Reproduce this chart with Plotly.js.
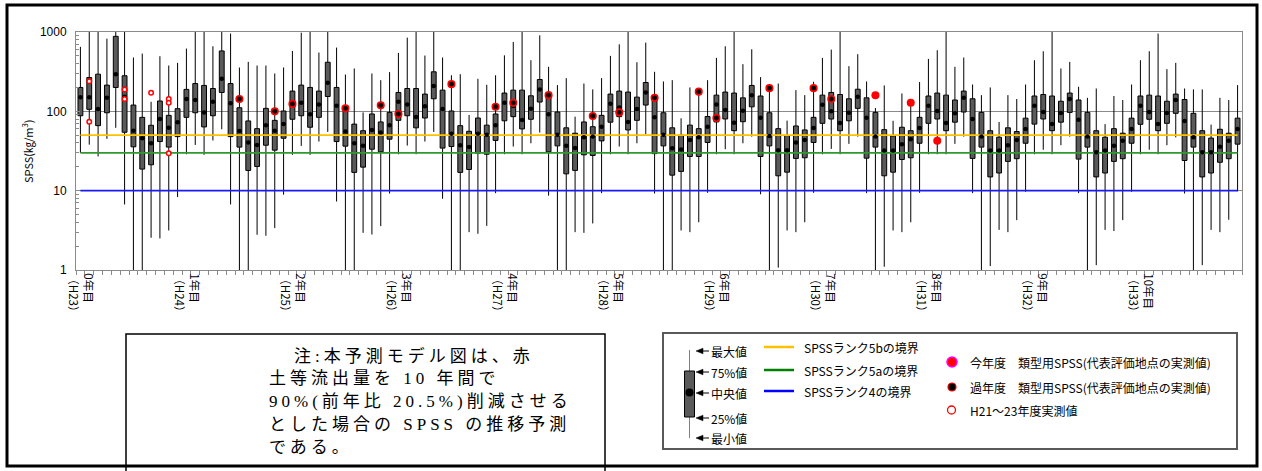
<!DOCTYPE html>
<html><head><meta charset="utf-8">
<script src="https://cdn.plot.ly/plotly-3.0.1.min.js"></script>
<style>
html,body{margin:0;padding:0;background:#fff;}
#chart{width:1262px;height:471px;}
</style>
</head><body><div id="chart"></div>
<script>
// ---- data ----
const yearLabels = ['0年目','1年目','2年目','3年目','4年目','5年目','6年目','7年目','8年目','9年目','10年目'];
const eraLabels  = ['（H23）','（H24）','（H25）','（H26）','（H27）','（H28）','（H29）','（H30）','（H31）','（H32）','（H33）'];
const monthsPerYear = 12;

const minVals = [30,38,27,45,62,6.7,0.5,0.5,2.55,2.5,3.15,8.3,
 28.8,37.7,28.3,42.9,59.4,6.7,0.5,0.5,2.78,2.7,3.37,8.9,
 28.3,36.7,28.3,41.6,55,7.3,0.5,0.5,2.94,2.8,3.57,9.2,
 28.8,37,28.8,41.6,55,7.9,0.5,0.5,3.0,2.86,3.6,9.3,
 28.8,36,28.8,39.6,54,8.65,0.5,0.5,3.0,2.94,3.86,9.3,
 28.8,36,28.8,39.6,51.4,9.2,0.5,0.5,3.15,3.0,4.0,9.4,
 28.8,33.3,28.8,39.6,48,9.0,0.5,1.07,3.15,3.0,4.0,9.4,
 28.8,33.6,28.8,38.9,48,9.3,0.5,1.1,3.15,3.0,4.0,9.4,
 28.8,28.8,28.8,38.9,48,9.3,0.5,1.12,3.2,3.0,4.25,9.7,
 28.8,32.8,28.8,37.4,48,9.3,0.5,1.15,3.2,3.1,4.25,9.7,
 28.8,32.8,28.8,37.4,47,9.2,0.5,1.15,3.2,3.0,4.3,9.8];
const q1Vals = [88,106,66,96,200,54.5,35.7,18.7,21.2,41.6,35.4,48,
 84,96,63.6,88,173,48,35.4,18,20.2,37.4,32.4,45.8,
 79.4,88,63,84,154,41.6,36.4,17,19.8,33.3,30.9,44.6,
 77,88,62,82.4,144,34.4,36,17,18.5,29.7,28.8,43,
 76,85.7,60,79.4,131,30.9,36.7,16.3,18,28.3,27.8,42.4,
 73,85.7,58.3,77,120,29.3,36.7,15.7,17.5,27,27,40.5,
 73.5,80.1,57,74,114,27,36.7,15.4,17.1,25.5,26,40.5,
 70.6,80,57,76,109,25.7,35.4,15.4,17.1,24.7,26,39.6,
 70.6,80,57,73,98,25.5,35.4,14.9,16.7,23.4,25.3,39.6,
 69,80,57,73,97,25,35.4,14.9,16.7,23.4,25.3,39.6,
 68.6,79.4,57,70.6,94.4,24,35.4,14.9,16.7,22.8,25.3,38.6];
const medVals = [150,150,107,148,294,153,57,45.8,39.6,80,62,73,
 143,139,97,132,257,126,56.6,40.5,37.7,67,57,69,
 124,128,91.7,122,229,118,55.6,39.6,36.7,58.3,54,67,
 132,122,85,115.6,208,107,52,37.4,35.4,52,50.5,67,
 128,116.6,77.8,108,189,91.7,50.5,36.7,34.4,47.2,48,64,
 125,112,73.5,107,173,84,50.5,34.2,33,43.6,47.2,64,
 122,104,72,102,160,83,49,32.4,32.4,40.5,43.6,61.8,
 121,100,71.5,96,153,83,48,32,32,38.5,44.6,61.8,
 118,101,71.5,94.4,148,80,48,32,32,37.4,43.6,60,
 118,98,69,95,143,78.6,48,30.5,32,36.7,42.5,60,
 118,98,69,95,139,75.7,47.2,30.5,30.5,35.7,42.5,60];
const q3Vals = [200,267,294,214,882,281,120,84,66.7,135,89,108,
 189,224,212,194,577,224,111,75.7,60.5,109,77,101,
 180,214,200,180,416,200,100,69,57,92.6,73.5,97,
 173,194,194,165,315,185,101,66,56,82.4,67,92.6,
 170,185,185,157,252,160,98,62,53,73.5,64,89,
 165,180,175,151,231,153,96,62,50,67,60.5,86,
 160,175,170,148,212,156,96,60.5,49.5,65.4,58.3,84,
 160,173,163,144,190,148,97,58.8,49,63,57,84,
 156,170,160,139,180,144,97,57,47.2,62,55.6,82,
 156,163,156,134,170,139,97,57,47.2,60.5,53,82,
 156,160,156,134,165,141,94.4,57,46,59.4,53,82];
const maxVals = [650,1500,1500,825,1500,1500,477,535,132,495,378,408,
 618,1500,1500,661,1500,955,357,420,378,378,300,357,
 577,980,1500,551,1500,636,291,347,97,300,247,312,
 545,849,1500,505,1500,477,285,294,90,257,216,285,
 508,749,1500,441,908,364,214,262,85.7,224,189,262,
 500,700,1500,416,735,315,238,247,81.7,200,177,247,
 472,661,1500,393,606,270,196,224,76.4,185,160,236,
 472,600,1500,371,525,238,110,212,76,168,120,234,
 458,589,1500,364,477,218,160,200,73.5,160,143,218,
 441,572,1500,347,420,204,148,194,69,156,139,218,
 441,572,955,340,408,194,189,189,68,148,139,214];

// 過年度 類型用SPSS
const pastIdx  = [18,22,24,30,34,36,42,47,49,53,58,61,65,70,72,78,83,85];
const pastVals = [143,100,124,109,119,92.6,220,114,128,160,87.4,97,148,177,82.4,196,196,143];
// 今年度 類型用SPSS
const currIdx  = [90,94,97];
const currVals = [160,128,42.5];
// H21～23年度実測値
const histIdx  = [1,1,5,5,8,10,10,10];
const histVals = [240,74,189,143,171,143,128,29.7];

// SPSS rank boundaries
const boundNames  = ['SPSSランク5bの境界','SPSSランク5aの境界','SPSSランク4の境界'];
const boundVals   = [50,30,10];
const boundColors = ['#FFC000','#2E9A2E','#1A1AF5'];
const boundLegendColors = ['#FFC000','#008000','#0000FF'];

const boxLegendLabels = ['最大値','75%値','中央値','25%値','最小値'];
const markerLegendLabels = ['今年度　類型用SPSS(代表評価地点の実測値)','過年度　類型用SPSS(代表評価地点の実測値)','H21～23年度実測値'];
const noteLines = ['注:本予測モデル図は、赤','土等流出量を 10 年間で','90%(前年比 20.5%)削減させる','とした場合の SPSS の推移予測','である。'];

// ---- geometry helpers (page pixels -> paper coords) ----
const W=1262,H=471,ML=76,MR=20,MT=32,MB=201;
const PW=W-ML-MR, PH=H-MT-MB;
const px = v => (v-ML)/PW;
const py = v => (H-MB-v)/PH;

const xs = minVals.map((_,i)=>i);
const FONT = 'Liberation Sans, Arial, Noto Sans CJK JP, sans-serif';
const JFONT = 'Noto Sans CJK JP, Liberation Sans, sans-serif';

const traces = [];
boundVals.forEach((v,k)=>{
  traces.push({type:'scatter',mode:'lines',x:[xs[0],xs[xs.length-1]],y:[v,v],
    line:{color:boundColors[k],width:1.8},hoverinfo:'skip',showlegend:false});
});
traces.push({type:'box',x:xs,q1:q1Vals,median:medVals,q3:q3Vals,lowerfence:minVals,upperfence:maxVals,
  fillcolor:'#5a5a5a',line:{color:'#000',width:1},whiskerwidth:0,width:0.55,boxpoints:false,
  hoverinfo:'skip',showlegend:false});
traces.push({type:'scatter',mode:'markers',x:xs,y:medVals,marker:{color:'#000',size:4.5},hoverinfo:'skip',showlegend:false});
traces.push({type:'scatter',mode:'markers',x:histIdx,y:histVals,marker:{color:'#fff',size:4.5,line:{color:'#FF0000',width:1.5}},hoverinfo:'skip',showlegend:false});
traces.push({type:'scatter',mode:'markers',x:pastIdx,y:pastVals,marker:{color:'#000',size:6.5,line:{color:'#FF0000',width:1.6}},hoverinfo:'skip',showlegend:false});
traces.push({type:'scatter',mode:'markers',x:currIdx,y:currVals,marker:{color:'#FF0000',size:8,line:{width:0}},hoverinfo:'skip',showlegend:false});

const shapes = [];
const annotations = [];

// note box text
const noteX = [292,267,267,267,267];
const noteY = [356,378,401,424,447];
noteLines.forEach((t,k)=>{
  annotations.push({xref:'paper',yref:'paper',x:px(noteX[k]),y:py(noteY[k]),xanchor:'left',yanchor:'middle',align:'left',
    text:t,showarrow:false,font:{family:'Liberation Serif, Noto Sans CJK JP, serif',size:17,color:'#000'}});
});

// outer frame & note box
shapes.push({type:'rect',xref:'paper',yref:'paper',x0:px(7),x1:px(1257),y0:py(5),y1:py(466),line:{color:'#000',width:3},layer:'above'});
shapes.push({type:'rect',xref:'paper',yref:'paper',x0:px(126),x1:px(605),y0:py(334),y1:py(490),line:{color:'#000',width:1.5},layer:'above'});

// legend box
shapes.push({type:'rect',xref:'paper',yref:'paper',x0:px(663),x1:px(1237),y0:py(333),y1:py(449),line:{color:'#595959',width:2},fillcolor:'#fff',layer:'above'});
// box-plot key
shapes.push({type:'line',xref:'paper',yref:'paper',x0:px(689.5),x1:px(689.5),y0:py(350),y1:py(438),line:{color:'#808080',width:1},layer:'above'});
shapes.push({type:'rect',xref:'paper',yref:'paper',x0:px(684.5),x1:px(694.5),y0:py(371),y1:py(417),line:{color:'#000',width:1},fillcolor:'#5a5a5a',layer:'above'});
shapes.push({type:'circle',xref:'paper',yref:'paper',x0:px(685.5),x1:px(693.5),y0:py(388.5),y1:py(396.5),line:{color:'#000',width:0},fillcolor:'#000',layer:'above'});
const keyY = [351,372,393,418,438];
keyY.forEach((y,k)=>{
  shapes.push({type:'path',xref:'paper',yref:'paper',
    path:`M ${px(696)} ${py(y)} L ${px(703)} ${py(y-2.8)} L ${px(703)} ${py(y+2.8)} Z`,
    fillcolor:'#000',line:{color:'#000',width:0.5},layer:'above'});
  shapes.push({type:'line',xref:'paper',yref:'paper',x0:px(702),x1:px(709),y0:py(y),y1:py(y),line:{color:'#000',width:1},layer:'above'});
  annotations.push({xref:'paper',yref:'paper',x:px(709),y:py(y),xanchor:'left',yanchor:'middle',text:boxLegendLabels[k],showarrow:false,
    font:{family:JFONT,size:12,color:'#000'}});
});
// boundary line keys
const lineKeyY = [347,370,391];
lineKeyY.forEach((y,k)=>{
  shapes.push({type:'line',xref:'paper',yref:'paper',x0:px(764),x1:px(794),y0:py(y),y1:py(y),line:{color:boundLegendColors[k],width:2.5},layer:'above'});
  annotations.push({xref:'paper',yref:'paper',x:px(802),y:py(y),xanchor:'left',yanchor:'middle',text:boundNames[k],showarrow:false,
    font:{family:JFONT,size:12,color:'#000'}});
});
// marker keys
const mkY = [362,387,410];
shapes.push({type:'circle',xref:'paper',yref:'paper',x0:px(947),x1:px(957),y0:py(mkY[0]-5),y1:py(mkY[0]+5),line:{color:'#FF00FF',width:1.5},fillcolor:'#FF0000',layer:'above'});
shapes.push({type:'circle',xref:'paper',yref:'paper',x0:px(948),x1:px(956),y0:py(mkY[1]-4),y1:py(mkY[1]+4),line:{color:'#FF0000',width:1.2},fillcolor:'#000',layer:'above'});
shapes.push({type:'circle',xref:'paper',yref:'paper',x0:px(947.5),x1:px(955.5),y0:py(mkY[2]-4),y1:py(mkY[2]+4),line:{color:'#FF0000',width:1.3},fillcolor:'#fff',layer:'above'});
markerLegendLabels.forEach((t,k)=>{
  annotations.push({xref:'paper',yref:'paper',x:px(968),y:py(mkY[k]),xanchor:'left',yanchor:'middle',text:t,showarrow:false,
    font:{family:JFONT,size:12,color:'#000'}});
});
// y-axis title
annotations.push({xref:'paper',yref:'paper',x:px(27),y:py(151),xanchor:'center',yanchor:'middle',textangle:-90,
  text:'SPSS(㎏/m<sup>3</sup>)',showarrow:false,font:{family:JFONT,size:11,color:'#000'}});

const tickVals = yearLabels.map((_,k)=>xs[k*monthsPerYear]);
const tickText = yearLabels.map((t,k)=>t+'<br>'+eraLabels[k]);

const layout = {
  width:W,height:H,margin:{l:ML,r:MR,t:MT,b:MB,pad:0},
  paper_bgcolor:'#fff',plot_bgcolor:'#fff',showlegend:false,
  font:{family:FONT,size:11,color:'#000'},
  xaxis:{range:[-0.5,xs.length-0.5],tickmode:'array',tickvals:tickVals,ticktext:tickText,tickangle:90,
    ticks:'',showline:true,mirror:true,linecolor:'#8a8a8a',linewidth:1,showgrid:false,zeroline:false,
    tickfont:{family:JFONT,size:11.5,color:'#000'},
    minor:{tick0:0.5,dtick:1,ticks:'outside',ticklen:4,tickcolor:'#8a8a8a',showgrid:false}},
  yaxis:{type:'log',range:[0,3],tickmode:'array',tickvals:[1,10,100,1000],ticktext:['1','10','100','1000'],
    ticks:'inside',ticklen:4,tickcolor:'#8a8a8a',showline:true,mirror:true,linecolor:'#8a8a8a',linewidth:1,
    showgrid:true,gridcolor:'#8a8a8a',gridwidth:1,zeroline:false,ticklabelstandoff:6,
    tickfont:{family:FONT,size:12,color:'#000'},
    minor:{dtick:'D1',ticks:'inside',ticklen:3,tickcolor:'#8a8a8a',showgrid:false}},
  shapes:shapes,annotations:annotations
};

Plotly.newPlot('chart',traces,layout,{staticPlot:true}).then(gd=>{
  gd.querySelectorAll('g.annotation').forEach(g=>{
    const idx = +g.getAttribute('data-index');
    if (idx < noteLines.length) g.querySelectorAll('text').forEach(t=>{t.style.letterSpacing='4px';});
  });
});
</script>
</body></html>
